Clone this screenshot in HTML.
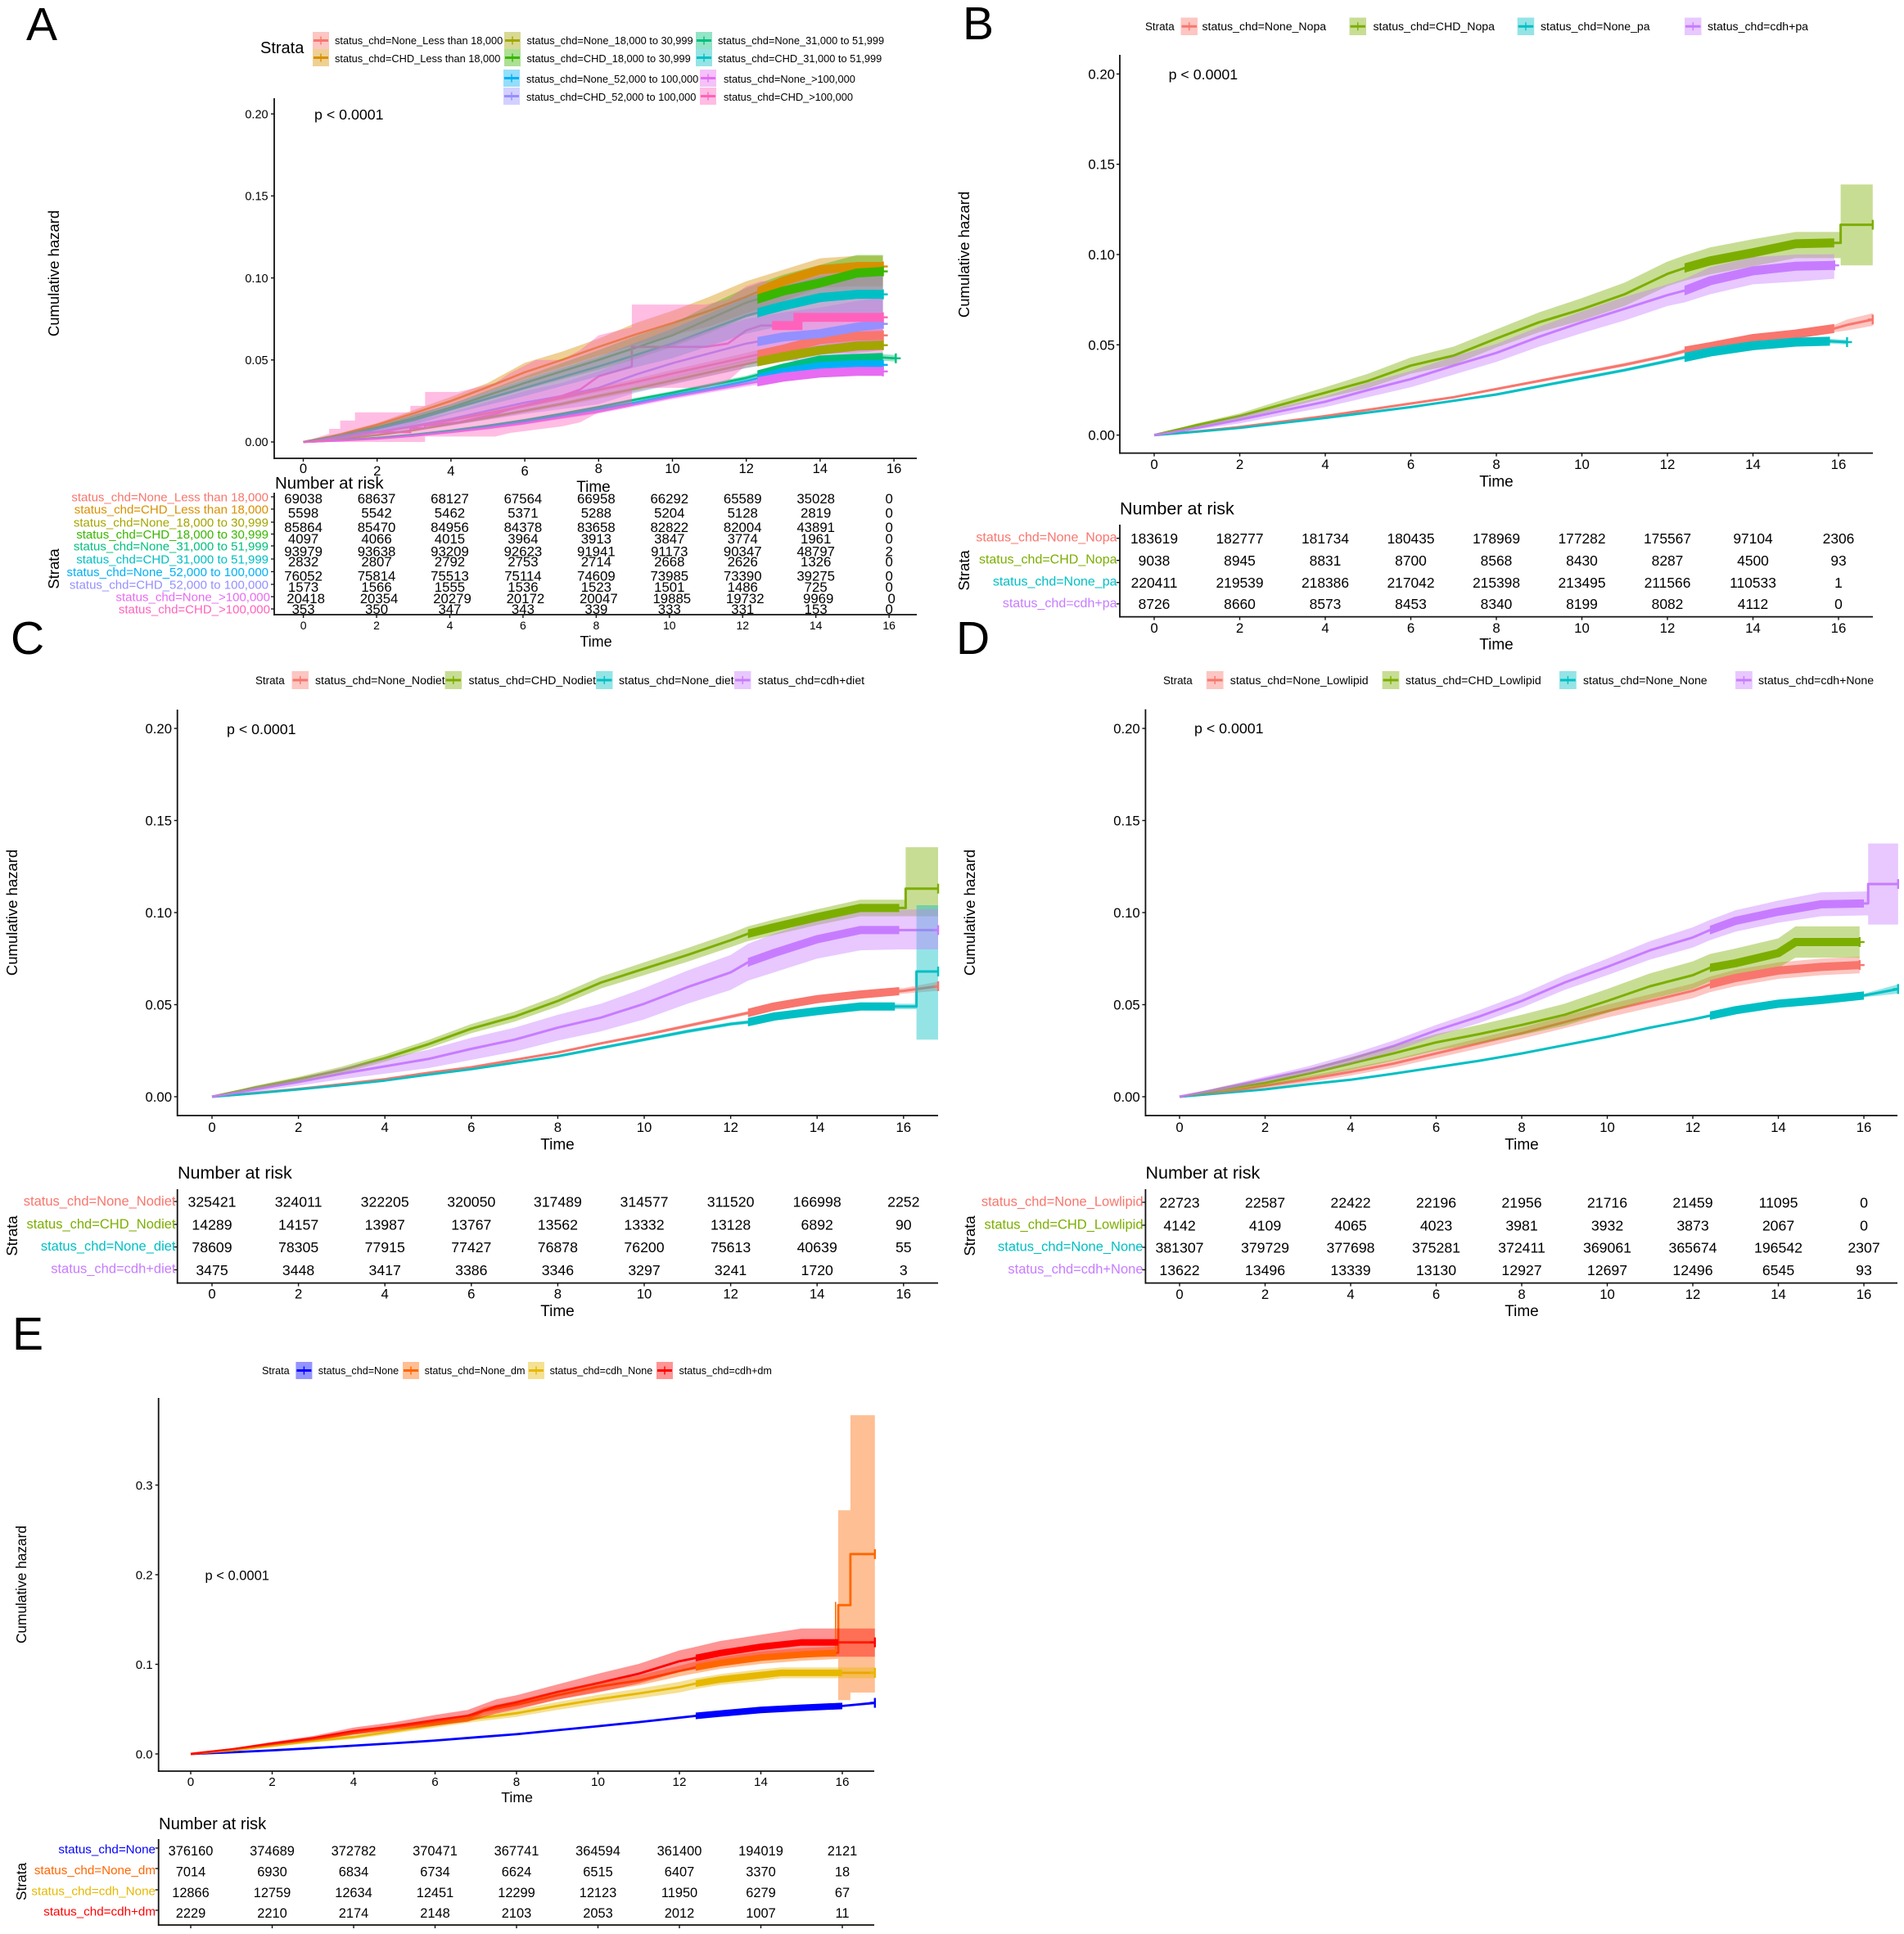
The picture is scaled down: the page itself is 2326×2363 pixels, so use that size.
<!DOCTYPE html>
<html lang="en">
<head>
<meta charset="utf-8">
<title>Cumulative hazard panels A-E</title>
<style>
html,body{margin:0;padding:0;background:#fff;width:2326px;height:2363px;overflow:hidden}
svg{display:block;position:absolute;left:0;top:0}
text{font-family:"Liberation Sans",Arial,sans-serif;fill:#000}
.letter{font-size:57px}
.pv{font-size:17.8px}
.la{font-size:12.8px}.lb{font-size:14.1px}.le{font-size:12.6px}
.ra{font-size:15px;text-anchor:end}.rb{font-size:16px;text-anchor:end}.rc{font-size:16.5px;text-anchor:end}.re{font-size:15.2px;text-anchor:end}
.title{font-size:21.5px}.time{font-size:19px;text-anchor:middle}.strata{font-size:13.4px}
.rot{font-size:18.5px;text-anchor:middle}
</style>
</head>
<body>
<svg id="fig" xmlns="http://www.w3.org/2000/svg" width="2326" height="2363" viewBox="0 0 2326 2363">
<defs id="defs"></defs>

<!-- Panel letters -->
<text class="letter" x="32" y="49">A</text>
<text class="letter" x="1176" y="48">B</text>
<text class="letter" x="13" y="799">C</text>
<text class="letter" x="1168" y="799">D</text>
<text class="letter" x="15" y="1649">E</text>

<!-- Panel A static text -->
<text x="318" y="65" style="font-size:20px">Strata</text>
<text class="la" x="409" y="54">status_chd=None_Less than 18,000</text>
<text class="la" x="409" y="76">status_chd=CHD_Less than 18,000</text>
<text class="la" x="643.5" y="54">status_chd=None_18,000 to 30,999</text>
<text class="la" x="643.5" y="76">status_chd=CHD_18,000 to 30,999</text>
<text class="la" x="877" y="54">status_chd=None_31,000 to 51,999</text>
<text class="la" x="877" y="76">status_chd=CHD_31,000 to 51,999</text>
<text class="la" x="643" y="101">status_chd=None_52,000 to 100,000</text>
<text class="la" x="643" y="123">status_chd=CHD_52,000 to 100,000</text>
<text class="la" x="884" y="101">status_chd=None_&gt;100,000</text>
<text class="la" x="884" y="123">status_chd=CHD_&gt;100,000</text>
<text class="pv" x="384" y="146">p &lt; 0.0001</text>
<text class="rot" transform="translate(72,334) rotate(-90)">Cumulative hazard</text>
<text class="time" x="725" y="601">Time</text>
<text x="336" y="597" style="font-size:20.4px">Number at risk</text>
<text class="rot" transform="translate(72,695) rotate(-90)">Strata</text>
<text class="time" x="728" y="790" style="font-size:18px">Time</text>
<text class="ra" x="328" y="612.4" style="fill:#F8766D">status_chd=None_Less than 18,000</text>
<text class="ra" x="328" y="627.4" style="fill:#D89000">status_chd=CHD_Less than 18,000</text>
<text class="ra" x="328" y="643.4" style="fill:#A3A500">status_chd=None_18,000 to 30,999</text>
<text class="ra" x="328" y="657.9" style="fill:#39B600">status_chd=CHD_18,000 to 30,999</text>
<text class="ra" x="328" y="672.4" style="fill:#00BF7D">status_chd=None_31,000 to 51,999</text>
<text class="ra" x="328" y="688.4" style="fill:#00BFC4">status_chd=CHD_31,000 to 51,999</text>
<text class="ra" x="328" y="703.9" style="fill:#00B0F6">status_chd=None_52,000 to 100,000</text>
<text class="ra" x="328" y="719.4" style="fill:#9590FF">status_chd=CHD_52,000 to 100,000</text>
<text class="ra" x="330" y="734.4" style="fill:#E76BF3">status_chd=None_&gt;100,000</text>
<text class="ra" x="330" y="749.4" style="fill:#FF62BC">status_chd=CHD_&gt;100,000</text>

<!-- Panel B static text -->
<text class="strata" x="1399" y="37">Strata</text>
<text class="lb" x="1468.5" y="37">status_chd=None_Nopa</text>
<text class="lb" x="1677.5" y="37">status_chd=CHD_Nopa</text>
<text class="lb" x="1882" y="37">status_chd=None_pa</text>
<text class="lb" x="2086" y="37">status_chd=cdh+pa</text>
<text class="pv" x="1427.6" y="97">p &lt; 0.0001</text>
<text class="rot" transform="translate(1184,311) rotate(-90)">Cumulative hazard</text>
<text class="time" x="1828" y="594.5">Time</text>
<text class="title" x="1368" y="628.5">Number at risk</text>
<text class="rot" transform="translate(1184,697) rotate(-90)">Strata</text>
<text class="time" x="1828" y="793.5">Time</text>
<text class="rb" x="1364.5" y="661.5" style="fill:#F8766D">status_chd=None_Nopa</text>
<text class="rb" x="1364.5" y="688.5" style="fill:#7CAE00">status_chd=CHD_Nopa</text>
<text class="rb" x="1364.5" y="715.5" style="fill:#00BFC4">status_chd=None_pa</text>
<text class="rb" x="1364.5" y="742" style="fill:#C77CFF">status_chd=cdh+pa</text>

<!-- Panel C static text -->
<text class="strata" x="312" y="836">Strata</text>
<text class="lb" x="385" y="836">status_chd=None_Nodiet</text>
<text class="lb" x="572.5" y="836">status_chd=CHD_Nodiet</text>
<text class="lb" x="756" y="836">status_chd=None_diet</text>
<text class="lb" x="926" y="836">status_chd=cdh+diet</text>
<text class="pv" x="277" y="897">p &lt; 0.0001</text>
<text class="rot" transform="translate(21,1115) rotate(-90)">Cumulative hazard</text>
<text class="time" x="681" y="1404.5">Time</text>
<text class="title" x="217" y="1440">Number at risk</text>
<text class="rot" transform="translate(21,1510) rotate(-90)">Strata</text>
<text class="time" x="681" y="1608">Time</text>
<text class="rc" x="214.5" y="1473" style="fill:#F8766D">status_chd=None_Nodiet</text>
<text class="rc" x="214.5" y="1501" style="fill:#7CAE00">status_chd=CHD_Nodiet</text>
<text class="rc" x="214.5" y="1528" style="fill:#00BFC4">status_chd=None_diet</text>
<text class="rc" x="214.5" y="1555.5" style="fill:#C77CFF">status_chd=cdh+diet</text>

<!-- Panel D static text -->
<text class="strata" x="1421" y="836">Strata</text>
<text class="lb" x="1502.8" y="836">status_chd=None_Lowlipid</text>
<text class="lb" x="1717" y="836">status_chd=CHD_Lowlipid</text>
<text class="lb" x="1934" y="836">status_chd=None_None</text>
<text class="lb" x="2148" y="836">status_chd=cdh+None</text>
<text class="pv" x="1459" y="896">p &lt; 0.0001</text>
<text class="rot" transform="translate(1191,1115) rotate(-90)">Cumulative hazard</text>
<text class="time" x="1859" y="1404.5">Time</text>
<text class="title" x="1399.5" y="1440">Number at risk</text>
<text class="rot" transform="translate(1191,1510) rotate(-90)">Strata</text>
<text class="time" x="1859" y="1608">Time</text>
<text class="rc" x="1396.5" y="1473.5" style="fill:#F8766D">status_chd=None_Lowlipid</text>
<text class="rc" x="1396.5" y="1501.5" style="fill:#7CAE00">status_chd=CHD_Lowlipid</text>
<text class="rc" x="1396.5" y="1528.5" style="fill:#00BFC4">status_chd=None_None</text>
<text class="rc" x="1396.5" y="1556" style="fill:#C77CFF">status_chd=cdh+None</text>

<!-- Panel E static text -->
<text class="strata" x="320" y="1679" style="font-size:12.6px">Strata</text>
<text class="le" x="388.8" y="1679">status_chd=None</text>
<text class="le" x="518.6" y="1679">status_chd=None_dm</text>
<text class="le" x="671.6" y="1679">status_chd=cdh_None</text>
<text class="le" x="829.5" y="1679">status_chd=cdh+dm</text>
<text x="250.5" y="1930.5" style="font-size:16.5px">p &lt; 0.0001</text>
<text class="rot" transform="translate(32,1936) rotate(-90)" style="font-size:17.3px">Cumulative hazard</text>
<text class="time" x="631.6" y="2202" style="font-size:17.7px">Time</text>
<text x="194" y="2235" style="font-size:20.2px">Number at risk</text>
<text class="rot" transform="translate(32,2299) rotate(-90)" style="font-size:17.3px">Strata</text>
<text class="re" x="190" y="2264.5" style="fill:#0000FF">status_chd=None</text>
<text class="re" x="190" y="2290" style="fill:#FF6600">status_chd=None_dm</text>
<text class="re" x="190" y="2315.5" style="fill:#E7B800">status_chd=cdh_None</text>
<text class="re" x="190" y="2340.5" style="fill:#FF0000">status_chd=cdh+dm</text>
</svg>

<script>
/* ---------- Axis tick values and labels ---------- */
const xTicks = [0,2,4,6,8,10,12,14,16];
const xTickLabels = ["0","2","4","6","8","10","12","14","16"];
const yTicks20 = [0,0.05,0.10,0.15,0.20];
const yTickLabels20 = ["0.00","0.05","0.10","0.15","0.20"];
const yTicksE = [0,0.1,0.2,0.3];
const yTickLabelsE = ["0.0","0.1","0.2","0.3"];

/* ---------- Panel A series ---------- */
const timeA = [0,1,2,3,4,5,6,7,8,9,10,11,12,13,14,15,15.7];
const hazA1 = [0,.0025,.006,.0095,.0133,.0175,.022,.0268,.0318,.0365,.0417,.0467,.0517,.0565,.0625,.0645,.065];
const lowA1 = [0,.0022,.0054,.0087,.0123,.0163,.0206,.0252,.03,.0345,.0395,.0443,.049,.0535,.0592,.0612,.061];
const highA1 = [0,.0028,.0066,.0103,.0143,.0187,.0234,.0284,.0336,.0385,.0439,.0491,.0544,.0595,.0658,.0678,.069];
const hazA2 = [0,.0045,.0105,.0175,.025,.0335,.0425,.05,.058,.0655,.0725,.08,.0885,.098,.105,.107,.107];
const lowA2 = [0,.0035,.0095,.0155,.0225,.0305,.0385,.0455,.0525,.059,.065,.0705,.0785,.086,.094,.095,.095];
const highA2 = [0,.0055,.0115,.0195,.0275,.036,.0483,.055,.063,.0725,.08,.0885,.098,.105,.112,.1135,.1135];
const hazA3 = [0,.002,.0042,.0072,.011,.0148,.019,.0232,.028,.0325,.0375,.0425,.0475,.052,.056,.0585,.059];
const lowA3 = [0,.0018,.0038,.0066,.0102,.0138,.0178,.0218,.0264,.0307,.0355,.0403,.0451,.0493,.0532,.0555,.056];
const highA3 = [0,.0022,.0046,.0078,.0118,.0158,.0202,.0246,.0296,.0343,.0395,.0447,.0499,.0547,.0588,.0615,.062];
const hazA4 = [0,.004,.009,.0145,.021,.0285,.036,.043,.05,.0575,.065,.075,.085,.092,.097,.103,.104];
const lowA4 = [0,.003,.008,.0125,.019,.0255,.032,.038,.044,.0505,.058,.0665,.076,.082,.086,.092,.093];
const highA4 = [0,.005,.01,.0165,.023,.0315,.04,.048,.056,.0645,.072,.0835,.094,.102,.108,.114,.114];
const timeA5 = [0,1,2,3,4,5,6,7,8,9,10,11,12,13,14,15,15.7,16.05];
const hazA5 = [0,.0011,.0025,.0045,.007,.01,.0133,.0172,.0213,.0258,.03,.0345,.039,.045,.05,.051,.0515,.051];
const lowA5 = [0,.001,.0023,.0042,.0066,.0095,.0127,.0165,.0205,.0248,.0289,.0333,.0376,.0434,.0482,.0491,.0495,.049];
const highA5 = [0,.0012,.0027,.0048,.0074,.0105,.0139,.0179,.0221,.0268,.0311,.0357,.0404,.0466,.0518,.0529,.0535,.053];
const hazA6 = [0,.0035,.008,.0135,.02,.0265,.033,.0395,.046,.053,.06,.0685,.077,.083,.088,.09,.09];
const lowA6 = [0,.0025,.0065,.0105,.017,.0225,.028,.034,.04,.0455,.051,.0585,.066,.071,.075,.077,.077];
const highA6 = [0,.0045,.0095,.0165,.023,.0305,.038,.045,.052,.0605,.069,.0785,.088,.095,.101,.103,.103];
const hazA7 = [0,.001,.0023,.0042,.0065,.0093,.0125,.0162,.02,.024,.0285,.0325,.037,.0425,.046,.047,.047];
const lowA7 = [0,.0009,.0021,.0039,.0061,.0088,.0119,.0155,.0192,.0231,.0275,.0314,.0357,.0411,.0444,.0453,.0453];
const highA7 = [0,.0011,.0025,.0045,.0069,.0098,.0131,.0169,.0208,.0249,.0295,.0336,.0383,.0439,.0476,.0487,.0487];
const hazA8 = [0,.0028,.006,.0098,.014,.019,.024,.028,.033,.041,.048,.054,.06,.064,.066,.07,.072];
const lowA8 = [0,.0015,.004,.0068,.01,.0135,.017,.02,.023,.03,.035,.04,.045,.049,.05,.054,.056];
const highA8 = [0,.004,.008,.0128,.018,.0245,.031,.036,.043,.052,.061,.068,.075,.079,.082,.086,.088];
const hazA9 = [0,.0009,.002,.0038,.006,.0085,.0115,.015,.0185,.023,.0275,.0315,.0355,.0395,.042,.043,.043];
const lowA9 = [0,.0006,.0015,.0032,.0053,.0077,.0106,.014,.0173,.0217,.0261,.03,.0338,.0375,.0398,.0405,.0405];
const highA9 = [0,.0012,.0025,.0044,.0067,.0093,.0124,.016,.0197,.0243,.0289,.033,.0372,.0415,.0442,.0455,.0455];
const timeA10 = [0,.7,.7,1,1,1.4,1.4,2.9,2.9,3.3,3.3,4.2,5.2,5.6,6.3,7,7.5,8,8.9,8.9,10.9,11.5,12,12.4,13.4,13.4,15.7];
const hazA10 = [0,.001,.003,.003,.0045,.0045,.006,.006,.0085,.0085,.01,.012,.017,.02,.024,.028,.032,.04,.046,.058,.058,.06,.068,.071,.071,.076,.076];
const lowA10 = [0,0,0,0,0,0,0,0,0,0,.0033,.0033,.0033,.0055,.0075,.0095,.012,.018,.022,.033,.033,.037,.047,.05,.05,.054,.054];
const highA10 = [0,.005,.008,.008,.013,.013,.018,.018,.022,.022,.0305,.0305,.036,.042,.05,.05,.056,.065,.07,.0838,.0838,.087,.095,.098,.098,.104,.104];

/* ---------- Panel B series ---------- */
const timeB1 = [0,1,2,3,4,5,6,7,8,9,10,11,12,12.4,13,14,15,15.9,16.2,16.8];
const hazB1 = [0,.002,.0045,.0075,.0105,.014,.0175,.021,.0255,.03,.0345,.039,.044,.0465,.049,.0535,.056,.059,.061,.064];
const lowB1 = [0,.0018,.0042,.0071,.0101,.0135,.017,.0204,.0248,.0292,.0336,.038,.043,.0453,.0477,.052,.0545,.057,.058,.0605];
const highB1 = [0,.0022,.0048,.0079,.0109,.0145,.018,.0216,.0262,.0308,.0354,.04,.045,.0477,.0503,.055,.0575,.061,.064,.0675];
const timeB2 = [0,1,2,3,4,5,6,7,8,9,10,11,12,12.4,13,14,15,15.9,16.05,16.05,16.8];
const hazB2 = [0,.0055,.0105,.017,.0235,.03,.0385,.044,.0535,.0625,.0697,.078,.0893,.0925,.0965,.101,.106,.1065,.1065,.1165,.1165];
const lowB2 = [0,.0045,.009,.0145,.0205,.026,.034,.039,.0485,.057,.0635,.0715,.0825,.0855,.089,.0935,.098,.098,.098,.094,.094];
const highB2 = [0,.0065,.012,.0195,.0265,.034,.043,.049,.0585,.068,.0759,.0845,.0961,.0995,.104,.1085,.1125,.1125,.1125,.1388,.1388];
const timeB3 = [0,1,2,3,4,5,6,7,8,9,10,11,12,12.4,13,14,15,15.8,16.2];
const hazB3 = [0,.0019,.004,.0068,.0095,.0125,.0155,.019,.0225,.027,.0315,.036,.041,.043,.046,.0495,.0515,.052,.0515];
const lowB3 = [0,.0018,.0038,.0065,.0091,.012,.015,.0184,.0218,.0262,.0306,.0351,.04,.042,.045,.0483,.0503,.0507,.0502];
const highB3 = [0,.002,.0042,.0071,.0099,.013,.016,.0196,.0232,.0278,.0324,.0369,.042,.044,.047,.0507,.0527,.0533,.0528];
const timeB4 = [0,1,2,3,4,5,6,7,8,9,10,11,12,12.4,13,14,15,15.9];
const hazB4 = [0,.004,.0085,.0135,.0185,.025,.031,.0385,.0455,.0545,.0625,.07,.0775,.08,.0855,.091,.0935,.094];
const lowB4 = [0,.003,.0065,.011,.0155,.021,.0265,.0335,.0405,.049,.0565,.0635,.0715,.0735,.078,.0835,.085,.0866];
const highB4 = [0,.005,.0105,.016,.0215,.029,.0355,.0435,.0505,.06,.0685,.0765,.0835,.0865,.093,.0985,.1,.1002];

/* ---------- Panel C series ---------- */
const timeC1 = [0,1,2,3,4,5,6,7,8,9,10,11,12,12.4,13,14,15,16,16.8];
const hazC1 = [0,.002,.0042,.0068,.0095,.013,.016,.02,.024,.029,.0335,.0385,.0435,.0455,.049,.053,.0555,.0575,.06];
const lowC1 = [0,.0018,.004,.0065,.0091,.0125,.0155,.0194,.0234,.0283,.0327,.0376,.0425,.0445,.0478,.0517,.0541,.056,.0575];
const highC1 = [0,.0022,.0044,.0071,.0099,.0135,.0165,.0206,.0246,.0297,.0343,.0394,.0445,.0465,.0502,.0543,.0569,.059,.0625];
const timeC2 = [0,1,2,3,4,5,6,7,8,9,10,11,12,12.4,13,14,15,15.9,16.05,16.05,16.8];
const hazC2 = [0,.005,.0095,.0145,.021,.0285,.037,.0435,.052,.062,.0695,.077,.085,.0885,.092,.0975,.1025,.1025,.1025,.113,.113];
const lowC2 = [0,.004,.0082,.0127,.019,.0262,.0345,.0408,.049,.0588,.066,.0733,.0812,.0845,.0878,.0932,.098,.098,.098,.098,.098];
const highC2 = [0,.006,.0108,.0163,.023,.0308,.0395,.0462,.055,.0652,.073,.0807,.0888,.0925,.0962,.1018,.107,.107,.107,.1355,.1355];
const timeC3 = [0,1,2,3,4,5,6,7,8,9,10,11,12,12.4,13,14,15,16,16.3,16.3,16.8];
const hazC3 = [0,.0019,.004,.0063,.0088,.012,.015,.0185,.022,.0265,.031,.0355,.0395,.0405,.0435,.0465,.049,.049,.049,.068,.068];
const lowC3 = [0,.0017,.0037,.0059,.0084,.0115,.0145,.0179,.0213,.0257,.0301,.0345,.0385,.0395,.0423,.0452,.0475,.0475,.0475,.031,.031];
const highC3 = [0,.0021,.0043,.0067,.0092,.0125,.0155,.0191,.0227,.0273,.0319,.0365,.0405,.0415,.0447,.0478,.0505,.0505,.0505,.104,.104];
const timeC4 = [0,1,2,3,4,5,6,7,8,9,10,11,12,12.4,13,14,15,15.9,16.8];
const hazC4 = [0,.004,.008,.0125,.0165,.0205,.026,.031,.0375,.043,.0505,.0595,.0675,.073,.078,.0855,.0905,.0905,.0905];
const lowC4 = [0,.0025,.006,.0095,.0125,.0155,.02,.0245,.0305,.0355,.042,.0505,.058,.063,.0675,.075,.0795,.08,.08];
const highC4 = [0,.0055,.01,.0155,.0205,.0255,.032,.0375,.0445,.0505,.059,.0685,.077,.083,.0885,.096,.1015,.1015,.102];

/* ---------- Panel D series ---------- */
const timeD1 = [0,1,2,3,4,5,6,7,8,9,10,11,12,12.4,13,14,15,15.9];
const hazD1 = [0,.0025,.006,.0095,.0135,.018,.0235,.029,.0345,.0405,.0465,.052,.0575,.061,.0645,.0685,.0705,.0715];
const lowD1 = [0,.0015,.0045,.0078,.0115,.0158,.021,.0262,.0315,.0372,.043,.0483,.0535,.0568,.06,.064,.066,.067];
const highD1 = [0,.0035,.0075,.0112,.0155,.0202,.026,.0318,.0375,.0438,.05,.0557,.0615,.0652,.069,.073,.075,.076];
const timeD2 = [0,1,2,3,4,5,6,7,8,9,10,11,12,12.4,13,14,14.4,15,15.9];
const hazD2 = [0,.004,.0075,.0125,.018,.0235,.0295,.034,.039,.0445,.052,.06,.066,.07,.0725,.078,.084,.084,.084];
const lowD2 = [0,.0025,.0055,.01,.0145,.0195,.025,.029,.0335,.0385,.0455,.053,.0585,.0625,.0645,.07,.0755,.0755,.0755];
const highD2 = [0,.0055,.0095,.015,.0215,.0275,.034,.039,.0445,.0505,.0585,.067,.0735,.0775,.0805,.086,.0925,.0925,.0925];
const timeD3 = [0,1,2,3,4,5,6,7,8,9,10,11,12,12.4,13,14,15,16,16.8];
const hazD3 = [0,.002,.004,.0068,.0092,.0125,.016,.0195,.0235,.028,.0325,.0375,.042,.044,.047,.0505,.0525,.055,.0585];
const lowD3 = [0,.0019,.0038,.0066,.0089,.0122,.0156,.0191,.023,.0275,.032,.0369,.0413,.0433,.0462,.0495,.0515,.054,.056];
const highD3 = [0,.0021,.0042,.007,.0095,.0128,.0164,.0199,.024,.0285,.033,.0381,.0427,.0447,.0478,.0515,.0535,.056,.061];
const timeD4 = [0,1,2,3,4,5,6,7,8,9,10,11,12,12.4,13,14,15,16.1,16.1,16.8];
const hazD4 = [0,.0045,.0095,.0145,.0205,.0275,.036,.0435,.052,.062,.0705,.0795,.0865,.0905,.0955,.1005,.1045,.105,.1155,.1155];
const lowD4 = [0,.0035,.008,.0125,.018,.0245,.033,.04,.0483,.058,.066,.0745,.081,.085,.0897,.0945,.098,.0985,.0935,.0935];
const highD4 = [0,.0055,.011,.0165,.023,.0305,.039,.047,.0557,.066,.075,.0845,.092,.096,.1013,.1065,.111,.1115,.1375,.1375];

/* ---------- Panel E series ---------- */
const timeE1 = [0,1,2,3,4,5,6,7,8,9,10,11,12,12.4,13,14,15,16,16.8];
const hazE1 = [0,.0018,.004,.0065,.0092,.012,.015,.0185,.022,.0265,.031,.0355,.0405,.0425,.045,.049,.0515,.0535,.057];
const lowE1 = [0,.0017,.0038,.0063,.0089,.0117,.0147,.0181,.0216,.026,.0305,.035,.04,.042,.0444,.0483,.0507,.0527,.0553];
const highE1 = [0,.0019,.0042,.0067,.0095,.0123,.0153,.0189,.0224,.027,.0315,.036,.041,.043,.0456,.0497,.0523,.0543,.0587];
const timeE2 = [0,1,2,3,4,5,6,6.8,7.2,8,9,10,11,12,12.4,13,14,15,15.9,15.9,16.2,16.2,16.8];
const hazE2 = [0,.005,.0105,.016,.0235,.03,.035,.0395,.048,.055,.0655,.075,.082,.0925,.0965,.1015,.1075,.111,.113,.166,.166,.223,.223];
const lowE2 = [0,.0045,.0095,.0145,.0215,.0275,.032,.036,.044,.0505,.0605,.0695,.0765,.0865,.09,.095,.1005,.104,.106,.06,.06,.0685,.0685];
const highE2 = [0,.0055,.0115,.0175,.0255,.0325,.038,.043,.052,.0595,.0705,.0805,.0875,.0985,.103,.108,.1145,.118,.12,.272,.272,.378,.378];
const timeE3 = [0,1,2,3,4,5,6,7,8,9,10,11,12,12.4,13,14,14.5,15,16.8];
const hazE3 = [0,.004,.009,.0145,.019,.0255,.0325,.0395,.0455,.0535,.061,.0675,.0745,.0785,.083,.088,.0905,.0905,.0905];
const lowE3 = [0,.0032,.0077,.0127,.0167,.0228,.0295,.036,.0415,.049,.056,.062,.0685,.0725,.077,.0815,.0845,.0845,.0845];
const highE3 = [0,.0048,.0103,.0163,.0213,.0282,.0355,.043,.0495,.058,.066,.073,.0805,.0845,.089,.0945,.0965,.0965,.0965];
const timeE4 = [0,1,2,3,4,5,6,6.8,7.5,8,9,10,11,12,12.4,13,14,15,16.8];
const hazE4 = [0,.005,.0115,.0175,.0255,.031,.0375,.0425,.053,.0575,.069,.079,.0895,.1035,.107,.1125,.1195,.1245,.1245];
const lowE4 = [0,.0038,.0095,.015,.0215,.0265,.0315,.036,.045,.0495,.0605,.0685,.0785,.0915,.0945,.099,.106,.1085,.1085];
const highE4 = [0,.0062,.0135,.02,.0295,.0355,.0435,.049,.061,.0655,.0775,.0895,.1005,.1155,.1195,.126,.133,.14,.14];

/* ---------- Number-at-risk tables ---------- */
const riskA = [
 [69038,68637,68127,67564,66958,66292,65589,35028,0],
 [5598,5542,5462,5371,5288,5204,5128,2819,0],
 [85864,85470,84956,84378,83658,82822,82004,43891,0],
 [4097,4066,4015,3964,3913,3847,3774,1961,0],
 [93979,93638,93209,92623,91941,91173,90347,48797,2],
 [2832,2807,2792,2753,2714,2668,2626,1326,0],
 [76052,75814,75513,75114,74609,73985,73390,39275,0],
 [1573,1566,1555,1536,1523,1501,1486,725,0],
 [20418,20354,20279,20172,20047,19885,19732,9969,0],
 [353,350,347,343,339,333,331,153,0]];
const riskB = [
 [183619,182777,181734,180435,178969,177282,175567,97104,2306],
 [9038,8945,8831,8700,8568,8430,8287,4500,93],
 [220411,219539,218386,217042,215398,213495,211566,110533,1],
 [8726,8660,8573,8453,8340,8199,8082,4112,0]];
const riskC = [
 [325421,324011,322205,320050,317489,314577,311520,166998,2252],
 [14289,14157,13987,13767,13562,13332,13128,6892,90],
 [78609,78305,77915,77427,76878,76200,75613,40639,55],
 [3475,3448,3417,3386,3346,3297,3241,1720,3]];
const riskD = [
 [22723,22587,22422,22196,21956,21716,21459,11095,0],
 [4142,4109,4065,4023,3981,3932,3873,2067,0],
 [381307,379729,377698,375281,372411,369061,365674,196542,2307],
 [13622,13496,13339,13130,12927,12697,12496,6545,93]];
const riskE = [
 [376160,374689,372782,370471,367741,364594,361400,194019,2121],
 [7014,6930,6834,6734,6624,6515,6407,3370,18],
 [12866,12759,12634,12451,12299,12123,11950,6279,67],
 [2229,2210,2174,2148,2103,2053,2012,1007,11]];

/* ---------- Panel layout ---------- */
const NS = 'http://www.w3.org/2000/svg';
const fig = document.getElementById('fig');
const defs = document.getElementById('defs');
const HUE10 = ['#F8766D','#D89000','#A3A500','#39B600','#00BF7D','#00BFC4','#00B0F6','#9590FF','#E76BF3','#FF62BC'];
const HUE4 = ['#F8766D','#7CAE00','#00BFC4','#C77CFF'];
const COL_E = ['#0000FF','#FF6600','#E7B800','#FF0000'];
const RIBBON_ALPHA = 0.42;

const panels = [
 {id:'a', x0:370.5, xs:45.1, y0:540, ys:2004, left:335, top:120, bottom:560, right:1120,
  yT:yTicks20, yL:yTickLabels20, yLabelX:327.6, tickFont:14.5, xTickFont:16.6, xLabelY:[572,575,575,575,572,572,572,572,572],
  lineW:2.6, censW:11, endTick:true,
  series:[
   {t:timeA,h:hazA1,lo:lowA1,hi:highA1,c:HUE10[0],cens:[12.3,15.7]},
   {t:timeA,h:hazA2,lo:lowA2,hi:highA2,c:HUE10[1],cens:[12.3,15.7]},
   {t:timeA,h:hazA3,lo:lowA3,hi:highA3,c:HUE10[2],cens:[12.3,15.7]},
   {t:timeA,h:hazA4,lo:lowA4,hi:highA4,c:HUE10[3],cens:[12.3,15.7]},
   {t:timeA5,h:hazA5,lo:lowA5,hi:highA5,c:HUE10[4],cens:[12.3,15.7]},
   {t:timeA,h:hazA6,lo:lowA6,hi:highA6,c:HUE10[5],cens:[12.3,15.7]},
   {t:timeA,h:hazA7,lo:lowA7,hi:highA7,c:HUE10[6],cens:[12.3,15.7]},
   {t:timeA,h:hazA8,lo:lowA8,hi:highA8,c:HUE10[7],cens:[12.3,15.7]},
   {t:timeA,h:hazA9,lo:lowA9,hi:highA9,c:HUE10[8],cens:[12.3,15.7]},
   {t:timeA10,h:hazA10,lo:lowA10,hi:highA10,c:HUE10[9],cens:[12.7,15.7]}],
  keys:[[382,39,0],[382,60,1],[616,39,2],[616,60,3],[850,39,4],[850,60,5],[615,85,6],[615,107,7],[855,85,8],[855,107,9]],
  keyW:20, keyH:21,
  table:{rows:riskA, x0:370.6, xs:44.72, rowY:[609,626.5,644,658,673.5,686,703.5,717,731,744], rowDx:[0,0,0,0,0,0,0,0,3,0],
   top:602, bottom:751, right:1120, font:16.8, tickY:[607,622,638,652.5,667,683,698.5,714,729,744], labelY:764, labelFont:14}},
 {id:'b', x0:1410, xs:52.25, y0:531.6, ys:2206, left:1368, top:67, bottom:553.6, right:2288,
  yT:yTicks20, yL:yTickLabels20, yLabelX:1362, tickFont:16.8, xTickFont:16.8, xLabelY:[567,567,567,567,567,567,567,567,567],
  lineW:3, censW:11, endTick:true,
  series:[
   {t:timeB1,h:hazB1,lo:lowB1,hi:highB1,c:HUE4[0],cens:[12.4,15.9]},
   {t:timeB2,h:hazB2,lo:lowB2,hi:highB2,c:HUE4[1],cens:[12.4,15.9]},
   {t:timeB3,h:hazB3,lo:lowB3,hi:highB3,c:HUE4[2],cens:[12.4,15.8]},
   {t:timeB4,h:hazB4,lo:lowB4,hi:highB4,c:HUE4[3],cens:[12.4,15.9]}],
  keys:[[1442.5,21.5,0],[1648.5,21.5,1],[1853.7,21.5,2],[2058,21.5,3]],
  keyW:20.5, keyH:21.5,
  table:{rows:riskB, x0:1410, xs:52.25, rowY:[657.7,684.7,711.7,737.8], rowDx:[0,0,0,0],
   top:641, bottom:753.6, right:2288, font:17.4, tickY:[657.7,684.7,711.7,737.8], labelY:767, labelFont:16.8}},
 {id:'c', x0:259, xs:52.8, y0:1340, ys:2250, left:216.7, top:867, bottom:1363, right:1146,
  yT:yTicks20, yL:yTickLabels20, yLabelX:210, tickFont:16.7, xTickFont:16.7, xLabelY:[1377,1377,1377,1377,1377,1377,1377,1377,1377],
  lineW:3, censW:10, endTick:true,
  series:[
   {t:timeC1,h:hazC1,lo:lowC1,hi:highC1,c:HUE4[0],cens:[12.4,15.9]},
   {t:timeC2,h:hazC2,lo:lowC2,hi:highC2,c:HUE4[1],cens:[12.4,15.9]},
   {t:timeC3,h:hazC3,lo:lowC3,hi:highC3,c:HUE4[2],cens:[12.4,15.8]},
   {t:timeC4,h:hazC4,lo:lowC4,hi:highC4,c:HUE4[3],cens:[12.4,15.9]}],
  keys:[[356.5,820,0],[543.6,820,1],[728,820,2],[897,820,3]],
  keyW:20.5, keyH:22,
  table:{rows:riskC, x0:259, xs:52.8, rowY:[1468,1496,1523.6,1551.5], rowDx:[0,0,0,0],
   top:1453, bottom:1567.6, right:1146, font:17.7, tickY:[1468,1496,1523.6,1551.5], labelY:1580.5, labelFont:16.7}},
 {id:'d', x0:1441, xs:52.25, y0:1340, ys:2250, left:1399.4, top:866.6, bottom:1363, right:2318,
  yT:yTicks20, yL:yTickLabels20, yLabelX:1392.7, tickFont:16.7, xTickFont:16.7, xLabelY:[1377,1377,1377,1377,1377,1377,1377,1377,1377],
  lineW:3, censW:10, endTick:true,
  series:[
   {t:timeD1,h:hazD1,lo:lowD1,hi:highD1,c:HUE4[0],cens:[12.4,15.9]},
   {t:timeD2,h:hazD2,lo:lowD2,hi:highD2,c:HUE4[1],cens:[12.4,15.9]},
   {t:timeD3,h:hazD3,lo:lowD3,hi:highD3,c:HUE4[2],cens:[12.4,16]},
   {t:timeD4,h:hazD4,lo:lowD4,hi:highD4,c:HUE4[3],cens:[12.4,16]}],
  keys:[[1473.8,820,0],[1688.6,820,1],[1905,820,2],[2120,820,3]],
  keyW:20.8, keyH:22,
  table:{rows:riskD, x0:1441, xs:52.25, rowY:[1469,1497,1524,1551.5], rowDx:[0,0,0,0],
   top:1453, bottom:1567.6, right:2318, font:17.7, tickY:[1469,1497,1524,1551.5], labelY:1581, labelFont:16.7}},
 {id:'e', x0:233, xs:49.75, y0:2143, ys:1095, left:193.7, top:1708, bottom:2164, right:1068,
  yT:yTicksE, yL:yTickLabelsE, yLabelX:186.6, tickFont:15, xTickFont:15.2, xLabelY:[2176.6,2176.6,2176.6,2176.6,2176.6,2176.6,2176.6,2176.6,2176.6],
  lineW:2.8, censW:8, endTick:true,
  series:[
   {t:timeE1,h:hazE1,lo:lowE1,hi:highE1,c:COL_E[0],cens:[12.4,16]},
   {t:timeE2,h:hazE2,lo:lowE2,hi:highE2,c:COL_E[1],cens:[12.4,15.85]},
   {t:timeE3,h:hazE3,lo:lowE3,hi:highE3,c:COL_E[2],cens:[12.4,16]},
   {t:timeE4,h:hazE4,lo:lowE4,hi:highE4,c:COL_E[3],cens:[12.4,15.9]}],
  keys:[[361.4,1664,0],[492,1664,1],[645,1664,2],[802,1664,3]],
  keyW:20, keyH:21,
  table:{rows:riskE, x0:233, xs:49.75, rowY:[2261,2286.6,2312,2337], rowDx:[0,0,0,0],
   top:2247, bottom:2352, right:1068, font:16.4, tickY:[2258,2283,2309,2334], labelY:null, labelFont:15}}
];

/* ---------- Drawing helpers ---------- */
function addShape(tag, props, name, parent){
  const el = document.createElementNS(NS, tag);
  for(const k in props){ el.setAttribute(k, props[k]); }
  
  
  (parent || fig).appendChild(el);
  return el;
}
function addText(str, x, cy, size, anchor, name, parent){
  const el = document.createElementNS(NS, 'text');
  el.setAttribute('x', x);
  el.setAttribute('y', cy + size * 0.36);
  el.setAttribute('text-anchor', anchor);
  el.style.fontSize = size + 'px';
  el.textContent = str;
  
  
  (parent || fig).appendChild(el);
  return el;
}
function seg(x1,y1,x2,y2,w,name,parent,color){
  return addShape('line',{x1:x1,y1:y1,x2:x2,y2:y2,stroke:color||'#111','stroke-width':w},name,parent);
}

function drawPanel(p){
  const g = addShape('g',{},p.id+'-panel');
  const X = t => p.x0 + t*p.xs;
  const Y = v => p.y0 - v*p.ys;

  /* step lines beneath ribbons, as in the original layering */
  p.series.forEach((s,i)=>{
    const d = s.t.map((t,k)=>(k?'L':'M')+X(t).toFixed(1)+' '+Y(s.h[k]).toFixed(1)).join('');
    s.path = d;
    addShape('path',{d:d,fill:'none',stroke:s.c,'stroke-width':p.lineW,'stroke-linejoin':'round'},p.id+'-curve-'+(i+1),g);
  });
  /* confidence ribbons */
  p.series.forEach((s,i)=>{
    const up = s.t.map((t,k)=>(k?'L':'M')+X(t).toFixed(1)+' '+Y(s.hi[k]).toFixed(1)).join('');
    let down = '';
    for(let k=s.t.length-1;k>=0;k--){ down += 'L'+X(s.t[k]).toFixed(1)+' '+Y(s.lo[k]).toFixed(1); }
    addShape('path',{d:up+down+'Z',fill:s.c,'fill-opacity':RIBBON_ALPHA,stroke:'none'},p.id+'-ribbon-'+(i+1),g);
  });
  /* dense censor marks + terminal plus */
  p.series.forEach((s,i)=>{
    const id = p.id+'clip'+i;
    const cp = addShape('clipPath',{id:id},p.id+'-censor-clip-'+(i+1),defs);
    addShape('rect',{x:X(s.cens[0]),y:p.top-20,width:X(s.cens[1])-X(s.cens[0]),height:p.bottom-p.top+40},p.id+'-censor-clip-rect-'+(i+1),cp);
    addShape('path',{d:s.path,fill:'none',stroke:s.c,'stroke-width':p.censW,'clip-path':'url(#'+id+')'},p.id+'-censor-marks-'+(i+1),g);
    const n = s.t.length-1;
    const ex = X(s.t[n]), ey = Y(s.h[n]);
    seg(ex-6,ey,Math.min(ex+6,p.right),ey,2.4,p.id+'-end-mark-h-'+(i+1),g,s.c);
    seg(ex,ey-6,ex,ey+6,2.4,p.id+'-end-mark-v-'+(i+1),g,s.c);
  });

  /* main axes */
  seg(p.left,p.top,p.left,p.bottom+1,1.8,p.id+'-y-axis-line',g);
  seg(p.left,p.bottom,p.right,p.bottom,1.8,p.id+'-x-axis-line',g);
  p.yT.forEach((v,i)=>{
    seg(p.left-4,Y(v),p.left,Y(v),1.4,p.id+'-y-tick-'+i,g);
    addText(p.yL[i],p.yLabelX,Y(v),p.tickFont,'end',p.id+'-y-tick-label-'+i,g);
  });
  xTicks.forEach((t,i)=>{
    seg(X(t),p.bottom,X(t),p.bottom+4,1.4,p.id+'-x-tick-'+i,g);
    addText(xTickLabels[i],X(t),p.xLabelY[i],p.xTickFont,'middle',p.id+'-x-tick-label-'+i,g);
  });

  /* legend keys */
  p.keys.forEach((k,i)=>{
    const s = p.series[k[2]];
    addShape('rect',{x:k[0],y:k[1],width:p.keyW,height:p.keyH,fill:s.c,'fill-opacity':RIBBON_ALPHA},p.id+'-legend-key-'+(i+1),g);
    const cy = k[1]+p.keyH/2, cx = k[0]+p.keyW/2;
    seg(k[0]+1,cy,k[0]+p.keyW-1,cy,3,p.id+'-legend-key-line-'+(i+1),g,s.c);
    seg(cx,cy-5,cx,cy+5,1.4,p.id+'-legend-key-plus-'+(i+1),g,s.c);
  });

  /* risk table */
  const T = p.table;
  const TX = t => T.x0 + t*T.xs;
  seg(p.left,T.top,p.left,T.bottom+1,1.8,p.id+'-risk-y-axis',g);
  seg(p.left,T.bottom,T.right,T.bottom,1.8,p.id+'-risk-x-axis',g);
  T.rows.forEach((row,r)=>{
    seg(p.left-4,T.tickY[r],p.left,T.tickY[r],1.3,p.id+'-risk-row-tick-'+r,g);
    row.forEach((val,c)=>{
      addText(String(val),TX(xTicks[c])+T.rowDx[r],T.rowY[r],T.font,'middle',p.id+'-risk-value-r'+r+'-c'+c,g);
    });
  });
  xTicks.forEach((t,i)=>{
    seg(TX(t),T.bottom,TX(t),T.bottom+4,1.4,p.id+'-risk-x-tick-'+i,g);
    if(T.labelY!==null){ addText(xTickLabels[i],TX(t),T.labelY,T.labelFont,'middle',p.id+'-risk-x-tick-label-'+i,g); }
  });
}
panels.forEach(drawPanel);
</script>
</body>
</html>
